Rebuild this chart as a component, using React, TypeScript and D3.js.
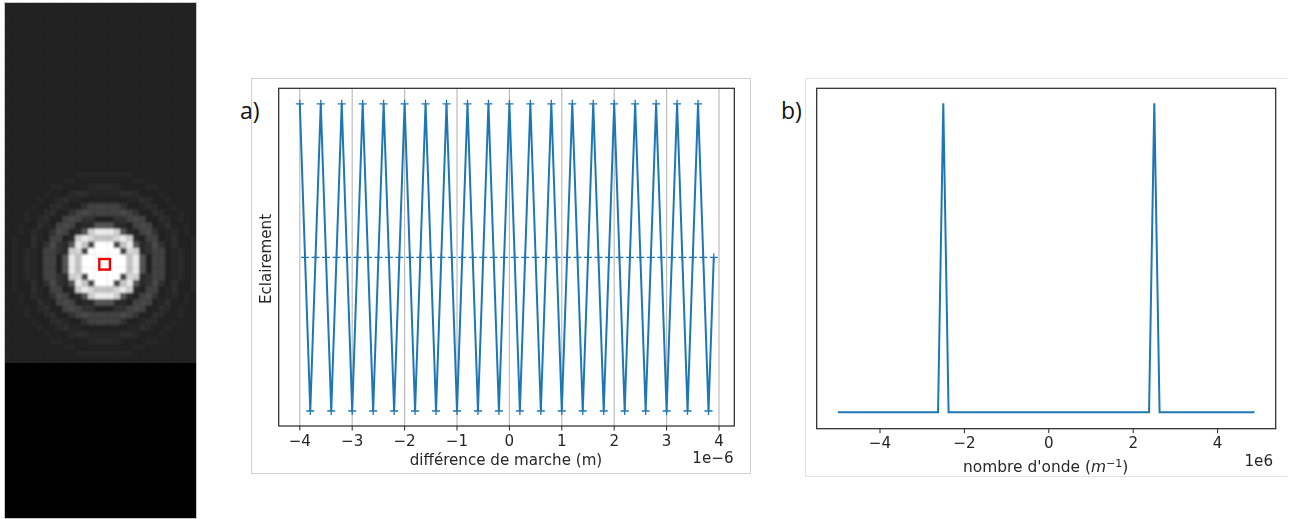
import React from "react";
import * as d3 from "d3";

// ---------- data ----------
// Gray level of the fringe pattern by distance from the centre, in half-cell steps
const ringGray = [
  255, 255, 255, 255, 255, 255, 255, 70, 195, 215, 235, 205, 85, 44, 36, 48, 66, 74, 66, 48, 36,
  32, 40, 46, 42, 36, 33, 36, 39, 37, 34, 33, 35, 36, 35, 34, 33, 34, 34, 34, 33, 33, 33, 33, 33,
  33, 33, 33, 33, 33, 33,
];
const farGray = 33;

// Samples of panel a (difference de marche, x 1e-6 m)
const pathDiff = [
  -4.0, -3.9, -3.8, -3.7, -3.6, -3.5, -3.4, -3.3, -3.2, -3.1, -3.0, -2.9, -2.8, -2.7, -2.6, -2.5,
  -2.4, -2.3, -2.2, -2.1, -2.0, -1.9, -1.8, -1.7, -1.6, -1.5, -1.4, -1.3, -1.2, -1.1, -1.0, -0.9,
  -0.8, -0.7, -0.6, -0.5, -0.4, -0.3, -0.2, -0.1, 0.0, 0.1, 0.2, 0.3, 0.4, 0.5, 0.6, 0.7,
  0.8, 0.9, 1.0, 1.1, 1.2, 1.3, 1.4, 1.5, 1.6, 1.7, 1.8, 1.9, 2.0, 2.1, 2.2, 2.3,
  2.4, 2.5, 2.6, 2.7, 2.8, 2.9, 3.0, 3.1, 3.2, 3.3, 3.4, 3.5, 3.6, 3.7, 3.8, 3.9,
];
const illumination = [
  1, 0.5, 0, 0.5, 1, 0.5, 0, 0.5, 1, 0.5, 0, 0.5, 1, 0.5, 0, 0.5,
  1, 0.5, 0, 0.5, 1, 0.5, 0, 0.5, 1, 0.5, 0, 0.5, 1, 0.5, 0, 0.5,
  1, 0.5, 0, 0.5, 1, 0.5, 0, 0.5, 1, 0.5, 0, 0.5, 1, 0.5, 0, 0.5,
  1, 0.5, 0, 0.5, 1, 0.5, 0, 0.5, 1, 0.5, 0, 0.5, 1, 0.5, 0, 0.5,
  1, 0.5, 0, 0.5, 1, 0.5, 0, 0.5, 1, 0.5, 0, 0.5, 1, 0.5, 0, 0.5,
];
const ticksA = [-4, -3, -2, -1, 0, 1, 2, 3, 4];

// Spectrum of panel b (nombre d'onde, x 1e6 m^-1)
const waveNumber = [-5, -2.625, -2.5, -2.375, 2.375, 2.5, 2.625, 4.875];
const spectrum = [0, 0, 1, 0, 0, 1, 0, 0];
const ticksB = [-4, -2, 0, 2, 4];

const BLUE = "#1f77b4";
const FONT = "'DejaVu Sans', sans-serif";
const INK = "#262626";
const FS = 15.1;

const fmt = (v: number) => (v < 0 ? "\u2212" + Math.abs(v) : String(v));

function Heatmap() {
  const cell = 6.4;
  const col = d3.scaleLinear().domain([0, 1]).range([104 - cell / 2, 104 + cell / 2]);
  const row = d3.scaleLinear().domain([0, 1]).range([264 - cell / 2, 264 + cell / 2]);
  const cells: React.ReactNode[] = [];
  for (let dy = -42; dy <= 16; dy++) {
    for (let dx = -16; dx <= 16; dx++) {
      const idx = Math.round(2 * Math.hypot(dx, dy));
      const g = idx < ringGray.length ? ringGray[idx] : farGray;
      cells.push(
        <rect key={dx + "_" + dy} x={col(dx)} y={row(dy)} width={cell + 0.4} height={cell + 0.4}
          fill={d3.rgb(g, g, g).formatHex()} />
      );
    }
  }
  return (
    <g>
      <defs>
        <clipPath id="imgClip"><rect x={5} y={3} width={191} height={360} /></clipPath>
        <filter id="soft" x="-5%" y="-5%" width="110%" height="110%">
          <feGaussianBlur stdDeviation={1} />
        </filter>
        <filter id="plotSoft" x="-2%" y="-2%" width="104%" height="104%">
          <feGaussianBlur stdDeviation={0.3} />
        </filter>
      </defs>
      <rect x={4} y={2} width={193} height={517} fill="#c8c8c8" />
      <rect x={5} y={3} width={191} height={515} fill="#000" />
      <g clipPath="url(#imgClip)"><g filter="url(#soft)">{cells}</g></g>
      <rect x={99.3} y={259} width={10.6} height={10.6} fill="none" stroke="#f00000" strokeWidth={2.4} />
    </g>
  );
}

function PanelA() {
  const x = d3.scaleLinear().domain([-4, 4]).range([299.8, 719]);
  const y = d3.scaleLinear().domain([0, 1]).range([411, 103.8]);
  const line = d3.line<number>().x((_, i) => x(pathDiff[i])).y((d) => y(d));
  const L = 278.7, R = 734.3, T = 88.3, B = 426;
  const m = 4;
  return (
    <g fontFamily={FONT} fill={INK}>
      <rect x={251.5} y={78.5} width={499} height={395} fill="#fff" stroke="#d0d0d0" />
      <g filter="url(#plotSoft)">
        {ticksA.map((t) => (
          <line key={t} x1={x(t)} x2={x(t)} y1={T} y2={B} stroke="#bdbdbd" strokeWidth={1.2} />
        ))}
        <path d={line(illumination) || ""} fill="none" stroke={BLUE} strokeWidth={2} />
        {illumination.map((d, i) => (
          <path key={i} d={`M${x(pathDiff[i]) - m},${y(d)}H${x(pathDiff[i]) + m}M${x(pathDiff[i])},${y(d) - m}V${y(d) + m}`}
            stroke={BLUE} strokeWidth={1.3} fill="none" />
        ))}
        <rect x={L} y={T} width={R - L} height={B - T} fill="none" stroke={INK} strokeWidth={1.2} />
        {ticksA.map((t) => (
          <g key={t}>
            <line x1={x(t)} x2={x(t)} y1={B} y2={B + 4.5} stroke={INK} strokeWidth={1} />
            <text x={x(t)} y={445.5} textAnchor="middle" fontSize={FS}>{fmt(t)}</text>
          </g>
        ))}
        <text x={506} y={465} textAnchor="middle" fontSize={FS}>différence de marche (m)</text>
        <text x={733.5} y={463} textAnchor="end" fontSize={FS}>1e−6</text>
        <text transform="translate(271,259) rotate(-90)" textAnchor="middle" fontSize={FS}>Eclairement</text>
      </g>
    </g>
  );
}

function PanelB() {
  const x = d3.scaleLinear().domain([-4, 4]).range([880, 1217.6]);
  const y = d3.scaleLinear().domain([0, 1]).range([412.3, 103.3]);
  const line = d3.line<number>().x((_, i) => x(waveNumber[i])).y((d) => y(d));
  const L = 816.7, R = 1275.7, T = 88.3, B = 428.7;
  return (
    <g fontFamily={FONT} fill={INK}>
      <path d="M805.5,78.5H1287M805.5,78.5V476.5H1287" fill="none" stroke="#e2e2e2" />
      <g filter="url(#plotSoft)">
        <path d={line(spectrum) || ""} fill="none" stroke={BLUE} strokeWidth={2} />
        <rect x={L} y={T} width={R - L} height={B - T} fill="none" stroke={INK} strokeWidth={1.2} />
        {ticksB.map((t) => (
          <g key={t}>
            <line x1={x(t)} x2={x(t)} y1={B} y2={B + 4.5} stroke={INK} strokeWidth={1} />
            <text x={x(t)} y={448} textAnchor="middle" fontSize={FS}>{fmt(t)}</text>
          </g>
        ))}
        <text x={963} y={472} fontSize={FS + 0.35}>
          nombre d'onde (<tspan fontStyle="italic">m</tspan>
          <tspan dy={-5.5} fontSize={11}>−1</tspan><tspan dy={5.5}>)</tspan>
        </text>
        <text x={1273} y={466} textAnchor="end" fontSize={FS}>1e6</text>
      </g>
    </g>
  );
}

export default function App() {
  return (
    <svg width={1293} height={519} viewBox="0 0 1293 519"
      style={{ position: "fixed", left: 0, top: 0, display: "block", background: "#fff" }}>
      <Heatmap />
      <PanelA />
      <PanelB />
      <text x={240} y={119} fontSize={23} fontFamily="'Open Sans', sans-serif" fill="#111">a)</text>
      <text x={781} y={119} fontSize={23} fontFamily="'Open Sans', sans-serif" fill="#111">b)</text>
    </svg>
  );
}
